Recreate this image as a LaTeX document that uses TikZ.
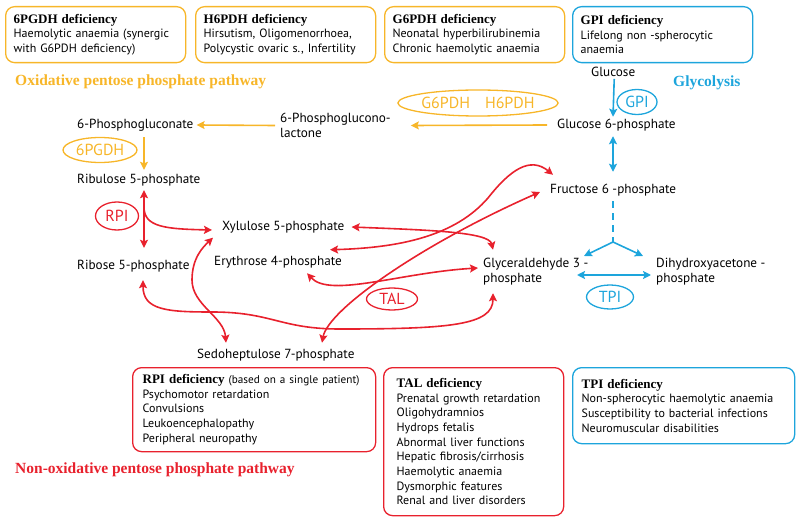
\documentclass[tikz,border=0pt]{standalone}
\usepackage{fontspec}
\setmainfont{PT Sans}
\newfontfamily\headfont{Liberation Serif}
\usetikzlibrary{shapes.geometric,arrows.meta,calc}

\definecolor{pporange}{RGB}{247,182,41}
\definecolor{ppred}{RGB}{232,33,45}
\definecolor{ppblue}{RGB}{29,165,220}
\newcommand{\boxtitle}[1]{{\headfont\bfseries\fontsize{13}{15}\selectfont #1}}

\begin{document}
\begin{tikzpicture}[x=1pt,y=-1pt,>={Stealth[length=8pt,width=8pt,inset=1.5pt]}]
    \tikzstyle{metab}=[anchor=west,inner sep=2pt,align=left,font=\fontsize{13.2}{15}\selectfont]
    \tikzstyle{enzyme}=[ellipse,draw,line width=1.3pt,inner sep=0pt,font=\fontsize{16}{18}\selectfont]
    \tikzstyle{infobox}=[draw,rounded corners=9pt,line width=1.3pt,anchor=north west,align=left,inner xsep=8pt,inner ysep=3pt,font=\fontsize{12}{14.7}\selectfont]
    \tikzstyle{pathway}=[anchor=west,inner sep=0pt,font=\headfont\bfseries\fontsize{15.5}{18}\selectfont]
    \tikzstyle{flow}=[line width=1.6pt]
    \tikzstyle{ox flow}=[flow,color=pporange,->]
    \tikzstyle{gly flow}=[flow,color=ppblue]
    \tikzstyle{nonox flow}=[flow,color=ppred]
    \useasboundingbox (0,0) rectangle (800,521);
    % Draw the deficiency boxes on top
    \foreach \nm/\xx/\cc/\txt in {b6pgdh/5/pporange/{\boxtitle{6PGDH deficiency}\\Haemolytic anaemia (synergic\\with G6PDH deficiency)},
        bh6pdh/195/pporange/{\boxtitle{H6PDH deficiency}\\Hirsutism, Oligomenorrhoea,\\Polycystic ovaric s., Infertility},
        bg6pdh/384/pporange/{\boxtitle{G6PDH deficiency}\\Neonatal hyperbilirubinemia\\Chronic haemolytic anaemia},
        bgpi/572/ppblue/{\boxtitle{GPI deficiency}\\Lifelong non -spherocytic\\anaemia}}
        \node[infobox,draw=\cc,text width=164pt,minimum height=56pt] (\nm) at (\xx,6) {\txt};
    % Draw the deficiency boxes at the bottom
    \node[infobox,draw=ppred,inner xsep=10pt,text width=223pt,minimum height=84pt] (brpi) at (132,367) {\mbox{\boxtitle{RPI deficiency} {\fontsize{11.2}{14.7}\selectfont(based on a single patient)}}\\Psychomotor retardation\\Convulsions\\Leukoencephalopathy\\Peripheral neuropathy};
    \node[infobox,draw=ppred,inner xsep=13pt,text width=154pt,minimum height=148pt] (btal) at (383,367) {\boxtitle{TAL deficiency}\\Prenatal growth retardation\\Oligohydramnios\\Hydrops fetalis\\Abnormal liver functions\\Hepatic fibrosis/cirrhosis\\Haemolytic anaemia\\Dysmorphic features\\Renal and liver disorders};
    \node[infobox,draw=ppblue,inner xsep=9pt,text width=204pt,minimum height=76pt] (btpi) at (572,367) {\boxtitle{TPI deficiency}\\Non-spherocytic haemolytic anaemia\\Susceptibility to bacterial infections\\Neuromuscular disabilities};
    % Pathway names
    \node[pathway,text=pporange] (oxppp) at (15,82) {Oxidative pentose phosphate pathway};
    \node[pathway,text=ppblue] (glyco) at (673,83) {Glycolysis};
    \node[pathway,text=ppred] (nonoxppp) at (15,470) {Non-oxidative pentose phosphate pathway};
    % Draw the metabolites
    \foreach \nm/\xx/\yy/\txt in {glc/589/72/Glucose, g6p/555/125/{Glucose 6-phosphate},
        f6p/548/190/{Fructose 6 -phosphate}, gap/481/271.5/{Glyceraldehyde 3 -\\phosphate},
        dhap/654/272/{Dihydroxyacetone -\\phosphate}, pg/75/125/6-Phosphogluconate,
        pgl/278/125.5/{6-Phosphoglucono-\\lactone}, ru5p/75/180/{Ribulose 5-phosphate},
        r5p/75/266/{Ribose 5-phosphate}, x5p/220/227/{Xylulose 5-phosphate},
        e4p/212/262/{Erythrose 4-phosphate}, s7p/195/355/{Sedoheptulose 7-phosphate}}
        \node[metab] (\nm) at (\xx,\yy) {\txt};
    % Draw the enzymes
    \node[enzyme,draw=pporange,text=pporange,minimum width=151pt,minimum height=26pt] (eg6pdh) at (478,103) {G6PDH\hspace{15pt}H6PDH};
    \node[enzyme,draw=pporange,text=pporange,minimum width=74pt,minimum height=25pt] (e6pgdh) at (100,150) {6PGDH};
    \node[enzyme,draw=ppblue,text=ppblue,minimum width=40pt,minimum height=25pt] (egpi) at (637,102) {GPI};
    \node[enzyme,draw=ppblue,text=ppblue,minimum width=47pt,minimum height=24pt] (etpi) at (610,297) {TPI};
    \node[enzyme,draw=ppred,text=ppred,minimum width=43pt,minimum height=28pt] (erpi) at (117,216) {RPI};
    \node[enzyme,draw=ppred,text=ppred,minimum width=51pt,minimum height=22pt] (etal) at (392,299) {TAL};
    % Oxidative branch
    \draw[ox flow] ($(pgl.west)+(-3,0)$) -- ($(pg.east)+(1,0)$);
    \draw[ox flow] ($(g6p.west)+(-8,0)$) -- ($(pgl.east)+(18,0)$);
    \draw[ox flow] ($(pg.south west)+(69,4)$) -- ($(ru5p.north west)+(69,-2)$);
    % Glycolysis
    \coordinate (split) at (613,242);
    \coordinate (togap) at (584,256);
    \coordinate (todhap) at (643,256);
    \draw[gly flow,->] ($(glc.south)+(1,0)$) -- ($(g6p.north west)+(58,0)$);
    \draw[gly flow,<->] ($(g6p.south west)+(58,3)$) -- ($(f6p.north west)+(65,-10)$);
    \draw[gly flow,dash pattern=on 7pt off 5pt] ($(f6p.south west)+(65,3)$) -- (split);
    \draw[gly flow,->] (split) -- (togap);
    \draw[gly flow,->] (split) -- (todhap);
    \draw[gly flow,<->] ($(gap.west)+(96,3.5)$) -- ($(dhap.west)+(-3,3)$);
    % Non-oxidative branch
    \coordinate (rpimid) at (144,207);
    \draw[nonox flow,<->] ($(ru5p.south west)+(69,2)$) -- ($(r5p.north west)+(69,-10)$);
    \draw[nonox flow,->] (rpimid) .. controls (144,227) and (165,229) .. ($(x5p.west)+(-8,3)$);
    \draw[nonox flow,<->] ($(x5p.east)+(5,0)$) .. controls ($(x5p.east)+(80,3)$) and ($(gap.north west)+(8,-24)$) .. ($(gap.north west)+(12,-6)$);
    \draw[nonox flow,<->] ($(e4p.north east)+(-14,-4)$) .. controls ($(e4p.north east)+(56,-6)$) and (455,236) .. (488,198) .. controls (510,170) and (530,156) .. ($(f6p.north west)+(5,-7)$);
    \draw[nonox flow,<->] ($(e4p.south east)+(-37,3)$) .. controls ($(e4p.south east)+(-14,28)$) and ($(gap.west)+(-80,1)$) .. ($(gap.west)+(-3,-3.5)$);
    \draw[nonox flow,<->] ($(s7p.north west)+(127,-4)$) .. controls ($(s7p.north west)+(133,-37)$) and ($(f6p.west)+(-128,55)$) .. ($(f6p.west)+(-8,2)$);
    \draw[nonox flow,<->] ($(s7p.north west)+(31,-4)$) .. controls ($(s7p.north west)+(29,-30)$) and (192,305) .. (192,280) .. controls (192,258) and (203,247) .. ($(x5p.south west)+(-7,2.5)$);
    \draw[nonox flow,<->] ($(r5p.south west)+(68,6)$) .. controls ($(r5p.south west)+(68,36)$) and (167,312) .. (212,312) .. controls (272,312) and (280,329) .. (340,329) .. controls (450,329) and ($(gap.south west)+(12,38)$) .. ($(gap.south west)+(12,6)$);
\end{tikzpicture}
\end{document}
